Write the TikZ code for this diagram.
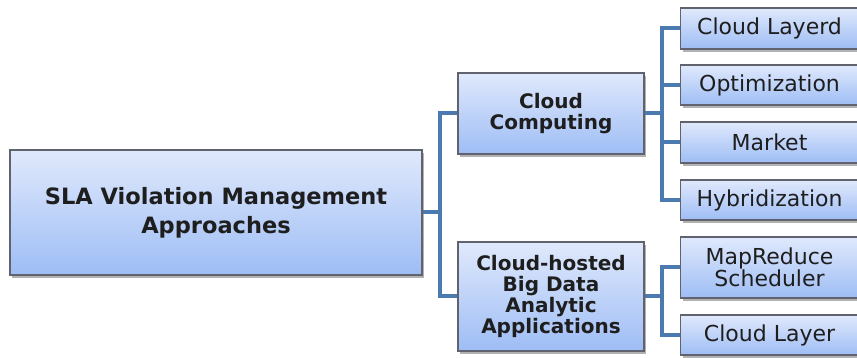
\documentclass[tikz,border=0pt]{standalone}
\usepackage{fontspec}
\setmainfont{DejaVu Sans}
\usepackage{tikz}
\usetikzlibrary{shadows}
\definecolor{boxtop}{RGB}{224,233,252}
\definecolor{boxbot}{RGB}{158,189,245}
\definecolor{boxline}{RGB}{96,98,110}
\definecolor{linkblue}{RGB}{74,122,176}
\definecolor{inkgray}{RGB}{30,30,30}

\begin{document}
\begin{tikzpicture}[x=1pt, y=1pt,
        box/.style={draw=boxline, line width=1.1pt, top color=boxtop, bottom color=boxbot,
            align=center, inner sep=0pt, text=inkgray,
            drop shadow={shadow xshift=2pt, shadow yshift=-3pt, fill=black, opacity=0.3}},
        rootbox/.style={box, minimum width=412pt, minimum height=125pt, font=\bfseries\fontsize{22.5}{25}\selectfont},
        midbox/.style={box, minimum width=186pt, font=\bfseries\fontsize{20}{21}\selectfont},
        leafbox/.style={box, minimum width=184pt, anchor=west, font=\fontsize{22}{22}\selectfont},
        link/.style={draw=linkblue, line width=4pt}]
        \useasboundingbox (0,0) rectangle (857,358);

        % Nodes
        \node[rootbox] (sla) at (216, 145.5) {SLA Violation Management\\[4pt]Approaches};
        \node[midbox, minimum height=81pt] (cloud) at (551, 244.5) {Cloud\\Computing};
        \node[midbox, minimum height=109pt] (bigdata) at (551, 61.5) {Cloud-hosted\\Big Data\\Analytic\\Applications};
        \node[leafbox, minimum height=41pt] (layerd) at (680, 329.5) {\hspace*{-6pt}Cloud Layerd};
        \node[leafbox, minimum height=40pt] (optim) at (680, 273) {\hspace*{-6pt}Optimization};
        \node[leafbox, minimum height=41pt] (market) at (680, 215.5) {\hspace*{-6pt}Market};
        \node[leafbox, minimum height=40pt] (hybrid) at (680, 158) {\hspace*{-6pt}Hybridization};
        \node[leafbox, minimum height=61pt] (mapred) at (680, 90.5) {\hspace*{-6pt}MapReduce\\\hspace*{-6pt}Scheduler};
        \node[leafbox, minimum height=40pt] (layer) at (680, 23) {\hspace*{-6pt}Cloud Layer};

        % Bus coordinates
        \coordinate (busA) at (440, 0);
        \coordinate (busB) at (662, 0);

        % Edges
        \draw[link] (sla.east) -- (sla.east -| busA);
        \draw[link] (cloud.west) -| (busA |- bigdata.west) -- (bigdata.west);
        \draw[link] (cloud.east) -- (cloud.east -| busB);
        \draw[link] (layerd.west) -| (busB |- hybrid.west) -- (hybrid.west);
        \draw[link] (optim.west) -- (optim.west -| busB);
        \draw[link] (market.west) -- (market.west -| busB);
        \draw[link] (bigdata.east) -- (bigdata.east -| busB);
        \draw[link] (mapred.west) -| (busB |- layer.west) -- (layer.west);
\end{tikzpicture}
\end{document}
